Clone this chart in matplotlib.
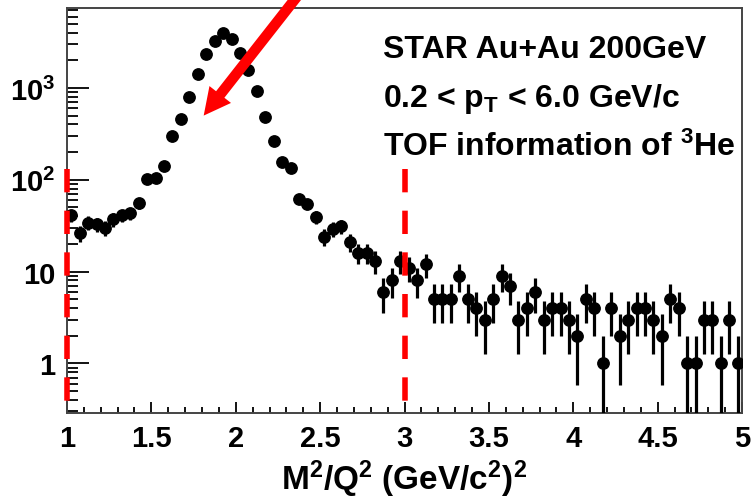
import numpy as np
import matplotlib
matplotlib.use("Agg")
import matplotlib.pyplot as plt
from matplotlib.ticker import FixedLocator, MultipleLocator, FuncFormatter

# ROOT-ish look: bold helvetica-like text everywhere
plt.rcParams['font.family'] = ['Liberation Sans', 'DejaVu Sans']
plt.rcParams['font.weight'] = 'bold'
plt.rcParams['axes.labelweight'] = 'bold'
plt.rcParams['mathtext.fontset'] = 'custom'
plt.rcParams['mathtext.rm'] = 'Liberation Sans:bold'
plt.rcParams['mathtext.it'] = 'Liberation Sans:bold'
plt.rcParams['mathtext.bf'] = 'Liberation Sans:bold'
plt.rcParams['mathtext.default'] = 'rm'

# histogram of M^2/Q^2, 80 bins between 1 and 5
m2q2_lo, m2q2_hi, nbins = 1.0, 5.0, 80
counts = np.array([
    41, 26, 34, 33, 30, 37, 41, 43, 56, 102,
    105, 143, 298, 460, 804, 1420, 2340, 3264, 3930, 3410,
    2400, 1570, 921, 480, 267, 158, 135, 62, 55, 39,
    24, 29, 31, 21, 16, 16, 13, 6, 8, 13,
    11, 8, 12, 5, 5, 5, 9, 5, 4, 3,
    5, 9, 7, 3, 4, 6, 3, 4, 4, 3,
    2, 5, 4, 1, 4, 2, 3, 4, 4, 3,
    2, 5, 4, 1, 1, 3, 3, 1, 3, 1,
], dtype=float)
cuts = [1.0, 3.0]          # selection window (red dashed lines)
cut_top = 131              # how high the dashed lines reach
arrow_tip = (1.81, 500)    # where the red arrow points
arrow_tail = (2.49, 19650) # off the top of the frame

ytick_vals = [1, 10, 100, 1000]
ytick_text = {1: '1', 10: '10', 100: '$10^{2}$', 1000: '$10^{3}$'}

labels = ['STAR Au+Au 200GeV',
          '0.2 < p$_{T}$ < 6.0 GeV/c',
          'TOF information of $^{3}$He']

edges = np.linspace(m2q2_lo, m2q2_hi, nbins + 1)
centers = 0.5 * (edges[:-1] + edges[1:])
err = np.sqrt(counts)
err_lo = counts - np.maximum(counts - err, 1e-3)

ylo, yhi = 0.288, 7430

fig = plt.figure(figsize=(7.53, 5.02), dpi=100)
ax = fig.add_axes([67/753, 1 - 414/502, 675/753, 405/502])

ax.errorbar(centers, counts, yerr=[err_lo, err], fmt='o', color='black',
            ms=8.2, elinewidth=2.3, capsize=0, zorder=3)

for c in cuts:
    ax.plot([c, c], [cut_top, ylo], color='red', lw=4,
            linestyle=(0, (4.2, 3.3)), dash_capstyle='butt',
            clip_on=False, zorder=4)

ax.annotate('', xy=arrow_tip, xytext=arrow_tail, annotation_clip=False,
            arrowprops=dict(arrowstyle='simple,head_length=1.93,head_width=1.97,tail_width=0.76',
                            color='red', mutation_scale=10, shrinkA=0, shrinkB=0,
                            lw=0), zorder=5)

ax.set_yscale('log')
ax.set_xlim(m2q2_lo, m2q2_hi)
ax.set_ylim(ylo, yhi)

ax.xaxis.set_major_locator(MultipleLocator(0.5))
ax.xaxis.set_minor_locator(MultipleLocator(0.1))
ax.xaxis.set_major_formatter(FuncFormatter(lambda v, p: '%g' % v))
ax.yaxis.set_major_locator(FixedLocator(ytick_vals))
ax.yaxis.set_major_formatter(FuncFormatter(lambda v, p: ytick_text.get(int(round(v)), '')))

ax.tick_params(axis='both', which='both', direction='in', top=False, right=False,
               color='black', width=1.3, labelsize=21)
ax.tick_params(axis='y', which='major', length=15.8, pad=8.5)
ax.tick_params(axis='y', which='minor', length=8)
ax.tick_params(axis='x', which='major', length=8, pad=8)
ax.tick_params(axis='x', which='minor', length=4)

for s in ax.spines.values():
    s.set_color('#444444')
    s.set_linewidth(1.4)

ax.set_xlabel('M$^{2}$/Q$^{2}$ (GeV/c$^{2}$)$^{2}$', fontsize=24,
              fontweight='bold', labelpad=4)

for i, t in enumerate(labels):
    fig.text(383/753, 1 - (58 + 49*i)/502, t, fontsize=23, ha='left', va='baseline')

fig.savefig('out.png', dpi=100)
